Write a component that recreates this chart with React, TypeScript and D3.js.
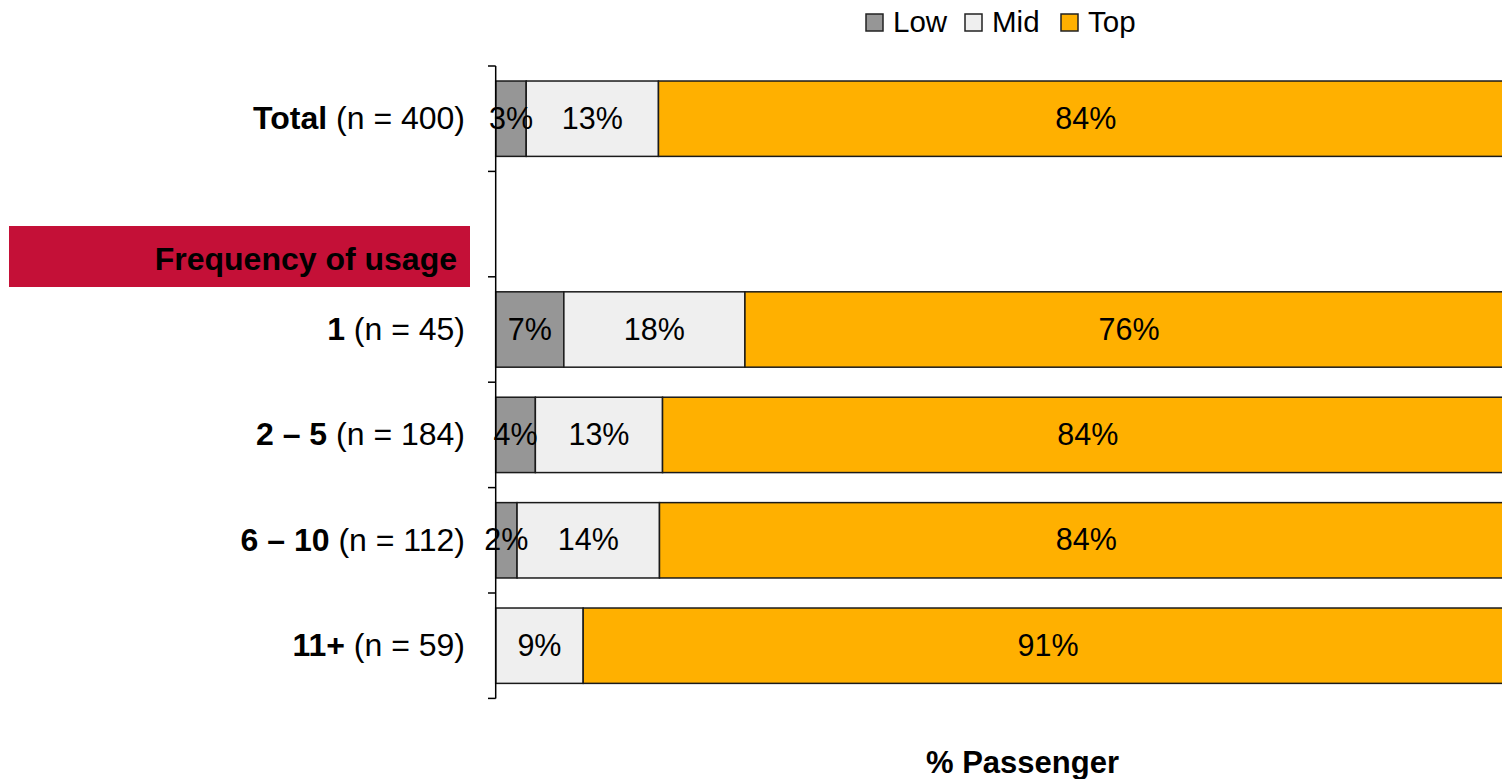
import React from "react";
import * as d3 from "d3";

// Rows of the chart (the empty-label row holds the section header)
const rowKeys = ["total", "section", "f1", "f2_5", "f6_10", "f11"];
const rowBold = ["Total", "", "1", "2 – 5", "6 – 10", "11+"];
const rowN = ["(n = 400)", "", "(n = 45)", "(n = 184)", "(n = 112)", "(n = 59)"];

// Share of passengers per group, in percent
const lowValues = [3.0, 0, 6.7, 3.9, 2.1, 0];
const midValues = [13.0, 0, 17.8, 12.5, 14.0, 8.6];
const topValues = [84.0, 0, 75.5, 83.6, 83.9, 91.4];

const seriesNames = ["Low", "Mid", "Top"];
const seriesColors = ["#969696", "#efefef", "#ffb000"];

const sectionTitle = "Frequency of usage";
const axisTitle = "% Passenger";

const W = 1502;
const H = 779;
const FONT = "Liberation Sans, Arial, sans-serif";

export default function App() {
  const x = d3.scaleLinear().domain([0, 100]).range([495.7, 1513]);
  const y = d3
    .scaleBand<string>()
    .domain(rowKeys)
    .range([66, 698.4])
    .paddingInner(0.285)
    .paddingOuter(0.1425);

  const step = y.step();
  const ticks = d3.range(rowKeys.length + 1).map((i) => 66 + i * step);

  const rows = rowKeys.map((k, i) => {
    const vals = [lowValues[i], midValues[i], topValues[i]];
    let acc = 0;
    const segs = vals.map((v, s) => {
      const x0 = acc;
      acc += v;
      return { s, v, x0, x1: acc };
    });
    return { k, i, segs };
  });

  const legendX = [866, 965, 1061];

  return (
    <svg
      width={W}
      height={H}
      style={{ position: "absolute", left: 0, top: 0, background: "#fff" }}
      fontFamily={FONT}
    >
      {/* legend */}
      <g>
        {seriesNames.map((n, s) => (
          <g key={n} transform={`translate(${legendX[s]},14)`}>
            <rect width={17} height={17} fill={seriesColors[s]} stroke="#222" strokeWidth={1.5} />
            <text x={27} y={17.5} fontSize={29.5} fill="#000">
              {n}
            </text>
          </g>
        ))}
      </g>

      {/* section header band */}
      <rect x={9} y={226} width={461} height={61} fill="#c41037" />
      <text x={457} y={270} textAnchor="end" fontSize={32} fontWeight="bold" fill="#000">
        {sectionTitle}
      </text>

      {/* bars */}
      {rows.map((r) => (
        <g key={r.k}>
          {r.segs
            .filter((sg) => sg.v > 0)
            .map((sg) => (
              <rect
                key={sg.s}
                x={x(sg.x0)}
                y={y(r.k)!}
                width={x(sg.x1) - x(sg.x0)}
                height={y.bandwidth()}
                fill={seriesColors[sg.s]}
                stroke="#1a1a1a"
                strokeWidth={1.5}
              />
            ))}
        </g>
      ))}

      {/* value labels */}
      {rows.map((r) =>
        r.segs
          .filter((sg) => sg.v > 0)
          .map((sg) => (
            <text
              key={r.k + sg.s}
              x={(x(sg.x0) + x(sg.x1)) / 2}
              y={y(r.k)! + y.bandwidth() / 2}
              dy="0.33em"
              textAnchor="middle"
              fontSize={30.5}
              fill="#000"
            >
              {Math.round(sg.v)}%
            </text>
          ))
      )}

      {/* category axis */}
      <line x1={495.7} x2={495.7} y1={ticks[0]} y2={ticks[ticks.length - 1]} stroke="#000" strokeWidth={1.5} />
      {ticks.map((t, i) => (
        <line key={i} x1={488} x2={495.7} y1={t} y2={t} stroke="#000" strokeWidth={1.5} />
      ))}
      {rowKeys.map((k, i) =>
        rowBold[i] ? (
          <text
            key={k}
            x={465}
            y={y(k)! + y.bandwidth() / 2}
            dy="0.33em"
            textAnchor="end"
            fontSize={32}
            fill="#000"
          >
            <tspan fontWeight="bold">{rowBold[i]}</tspan>
            <tspan> {rowN[i]}</tspan>
          </text>
        ) : null
      )}

      {/* value axis title */}
      <text x={1022.5} y={772.5} textAnchor="middle" fontSize={31} fontWeight="bold" fill="#000">
        {axisTitle}
      </text>
    </svg>
  );
}
